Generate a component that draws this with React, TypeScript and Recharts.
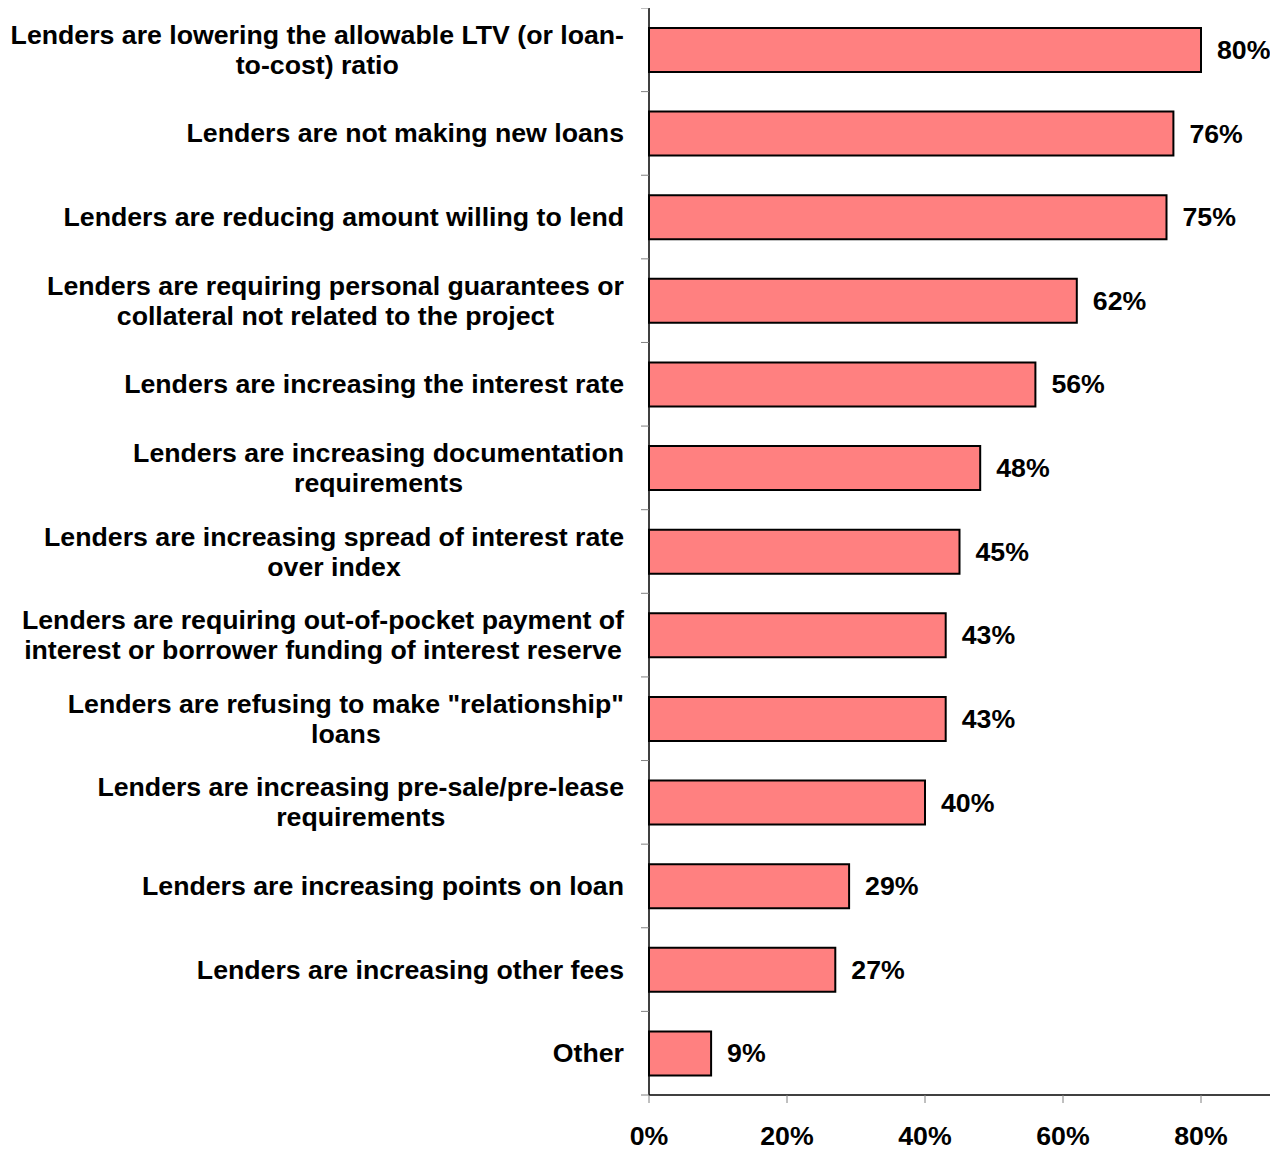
import { BarChart, Bar, XAxis, YAxis, LabelList } from 'recharts'

// categories (line breaks as in the original chart)
const categories = [
  'Lenders are lowering the allowable LTV (or loan-\nto-cost) ratio',
  'Lenders are not making new loans',
  'Lenders are reducing amount willing to lend',
  'Lenders are requiring personal guarantees or\ncollateral not related to the project',
  'Lenders are increasing the interest rate',
  'Lenders are increasing documentation\nrequirements',
  'Lenders are increasing spread of interest rate\nover index',
  'Lenders are requiring out-of-pocket payment of\ninterest or borrower funding of interest reserve',
  'Lenders are refusing to make "relationship"\nloans',
  'Lenders are increasing pre-sale/pre-lease\nrequirements',
  'Lenders are increasing points on loan',
  'Lenders are increasing other fees',
  'Other',
]

const shares = [80, 76, 75, 62, 56, 48, 45, 43, 43, 40, 29, 27, 9]

const xTicks = [0, 20, 40, 60, 80]

const data = categories.map((name, i) => ({ name, value: shares[i] }))

const FONT = '"Liberation Sans", Arial, sans-serif'
const FONT_SIZE = 26.7
const CHART_W = 1270
const CHART_H = 1142
const AXIS_W = 641
const X_AXIS_H = 55
const BAND = (CHART_H - X_AXIS_H) / categories.length

let ctx: CanvasRenderingContext2D | null = null
function measure(text: string) {
  if (!ctx) ctx = document.createElement('canvas').getContext('2d')
  if (!ctx) return text.length * 14
  ctx.font = `bold ${FONT_SIZE}px ${FONT}`
  return ctx.measureText(text).width
}

function CategoryTick(props: any) {
  const { x, y, payload, index } = props
  const lines = String(payload.value).split('\n')
  const blockW = Math.max(...lines.map(measure))
  const right = x - 25
  const lineH = 30
  const startY = y - ((lines.length - 1) * lineH) / 2
  return (
    <g>
      <line x1={x - 8} x2={x} y1={y - BAND / 2} y2={y - BAND / 2} stroke="#808080" />
      {index === categories.length - 1 && (
        <line x1={x - 8} x2={x} y1={y + BAND / 2} y2={y + BAND / 2} stroke="#808080" />
      )}
      {lines.map((line, i) => (
        <text
          key={i}
          x={lines.length > 1 ? right - blockW / 2 : right}
          y={startY + i * lineH}
          textAnchor={lines.length > 1 ? 'middle' : 'end'}
          dominantBaseline="central"
          fontFamily={FONT}
          fontSize={FONT_SIZE}
          fontWeight="bold"
          fill="#000"
        >
          {line}
        </text>
      ))}
    </g>
  )
}

function PercentTick(props: any) {
  const { x, y, payload } = props
  return (
    <text
      x={x}
      y={y + 21}
      dy="0.71em"
      textAnchor="middle"
      fontFamily={FONT}
      fontSize={FONT_SIZE}
      fontWeight="bold"
      fill="#000"
    >
      {payload.value}%
    </text>
  )
}

function ValueLabel(props: any) {
  const { x, y, width, height, value } = props
  return (
    <text
      x={x + width + 16}
      y={y + height / 2}
      dominantBaseline="central"
      fontFamily={FONT}
      fontSize={FONT_SIZE}
      fontWeight="bold"
      fill="#000"
    >
      {value}%
    </text>
  )
}

export default function App() {
  return (
    <div style={{ width: CHART_W, height: CHART_H, background: '#fff' }}>
      <BarChart
        width={CHART_W}
        height={CHART_H}
        data={data}
        layout="vertical"
        margin={{ top: 0, right: 8, bottom: 0, left: 0 }}
      >
        <XAxis
          type="number"
          domain={[0, 90]}
          ticks={xTicks}
          height={X_AXIS_H}
          axisLine={{ stroke: '#000', strokeWidth: 1.5 }}
          tickLine={{ stroke: '#808080' }}
          tickSize={8}
          tick={<PercentTick />}
        />
        <YAxis
          type="category"
          dataKey="name"
          width={AXIS_W}
          axisLine={{ stroke: '#000', strokeWidth: 1.5 }}
          tickLine={false}
          tickSize={0}
          tickMargin={0}
          interval={0}
          tick={<CategoryTick />}
        />
        <Bar dataKey="value" fill="#FF8080" stroke="#000" strokeWidth={2} barSize={44} isAnimationActive={false}>
          <LabelList dataKey="value" content={<ValueLabel />} />
        </Bar>
      </BarChart>
    </div>
  )
}
